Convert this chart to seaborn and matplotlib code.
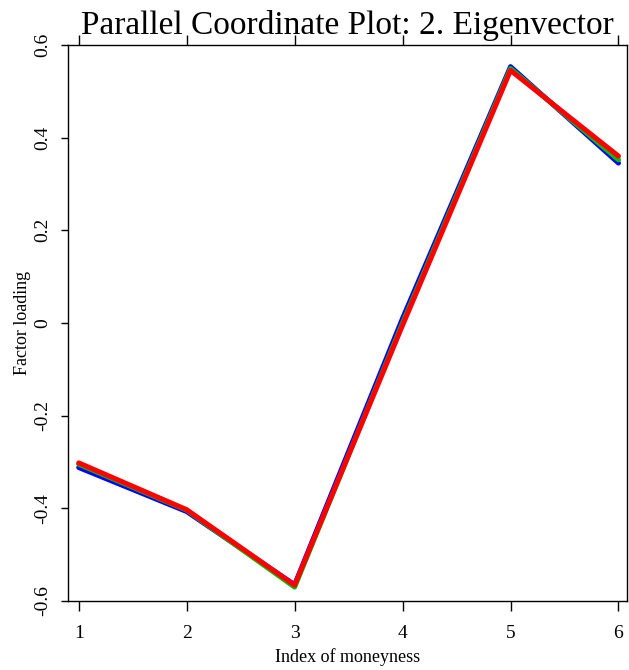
import numpy as np
import pandas as pd
import matplotlib
matplotlib.use("Agg")
import matplotlib.pyplot as plt
import seaborn as sns

# moneyness index and loadings of the 2nd eigenvector (three estimates)
idx = [1, 2, 3, 4, 5, 6]
load_blue = [-0.312, -0.407, -0.565, 0.010, 0.553, 0.345]
load_green = [-0.305, -0.404, -0.570, 0.000, 0.549, 0.352]
load_red = [-0.302, -0.403, -0.566, -0.005, 0.545, 0.360]
series = ["blue", "green", "red"]

df = pd.concat([
    pd.DataFrame({"idx": idx, "load": v, "s": s})
    for s, v in zip(series, [load_blue, load_green, load_red])
])

sns.set_style("ticks")
plt.rcParams["font.family"] = ["Liberation Serif", "DejaVu Serif"]
plt.rcParams["text.color"] = "black"
plt.rcParams["axes.labelcolor"] = "black"
plt.rcParams["xtick.color"] = "black"
plt.rcParams["ytick.color"] = "black"

fig = plt.figure(figsize=(6.29, 6.70), dpi=100)
ax = fig.add_axes([0.108, 0.103, 0.889, 0.830])

sns.lineplot(data=df, x="idx", y="load", hue="s", hue_order=series,
             palette={"blue": "#0000ff", "green": "#00c000", "red": "#ff0000"},
             linewidth=3.6, legend=False, ax=ax, sort=False)

ax.set_xlim(0.9, 6.08)
ax.set_ylim(-0.6, 0.6)
ax.set_xticks(idx)
ax.set_yticks([-0.6, -0.4, -0.2, 0, 0.2, 0.4, 0.6])
ax.set_yticklabels(["-0.6", "-0.4", "-0.2", "0", "0.2", "0.4", "0.6"],
                   rotation=90, va="center")
ax.tick_params(axis="x", direction="out", length=7, width=1, top=True,
               labelsize=14, pad=10)
ax.tick_params(axis="y", direction="out", length=5, width=1,
               labelsize=14, pad=7)
for sp in ax.spines.values():
    sp.set_linewidth(1)
    sp.set_color("black")

ax.set_xlabel("Index of moneyness", fontsize=13, labelpad=5)
ax.set_ylabel("Factor loading", fontsize=13, labelpad=2)
ax.set_title("Parallel Coordinate Plot: 2. Eigenvector", fontsize=24, pad=8)

fig.savefig("out.png", dpi=100)
